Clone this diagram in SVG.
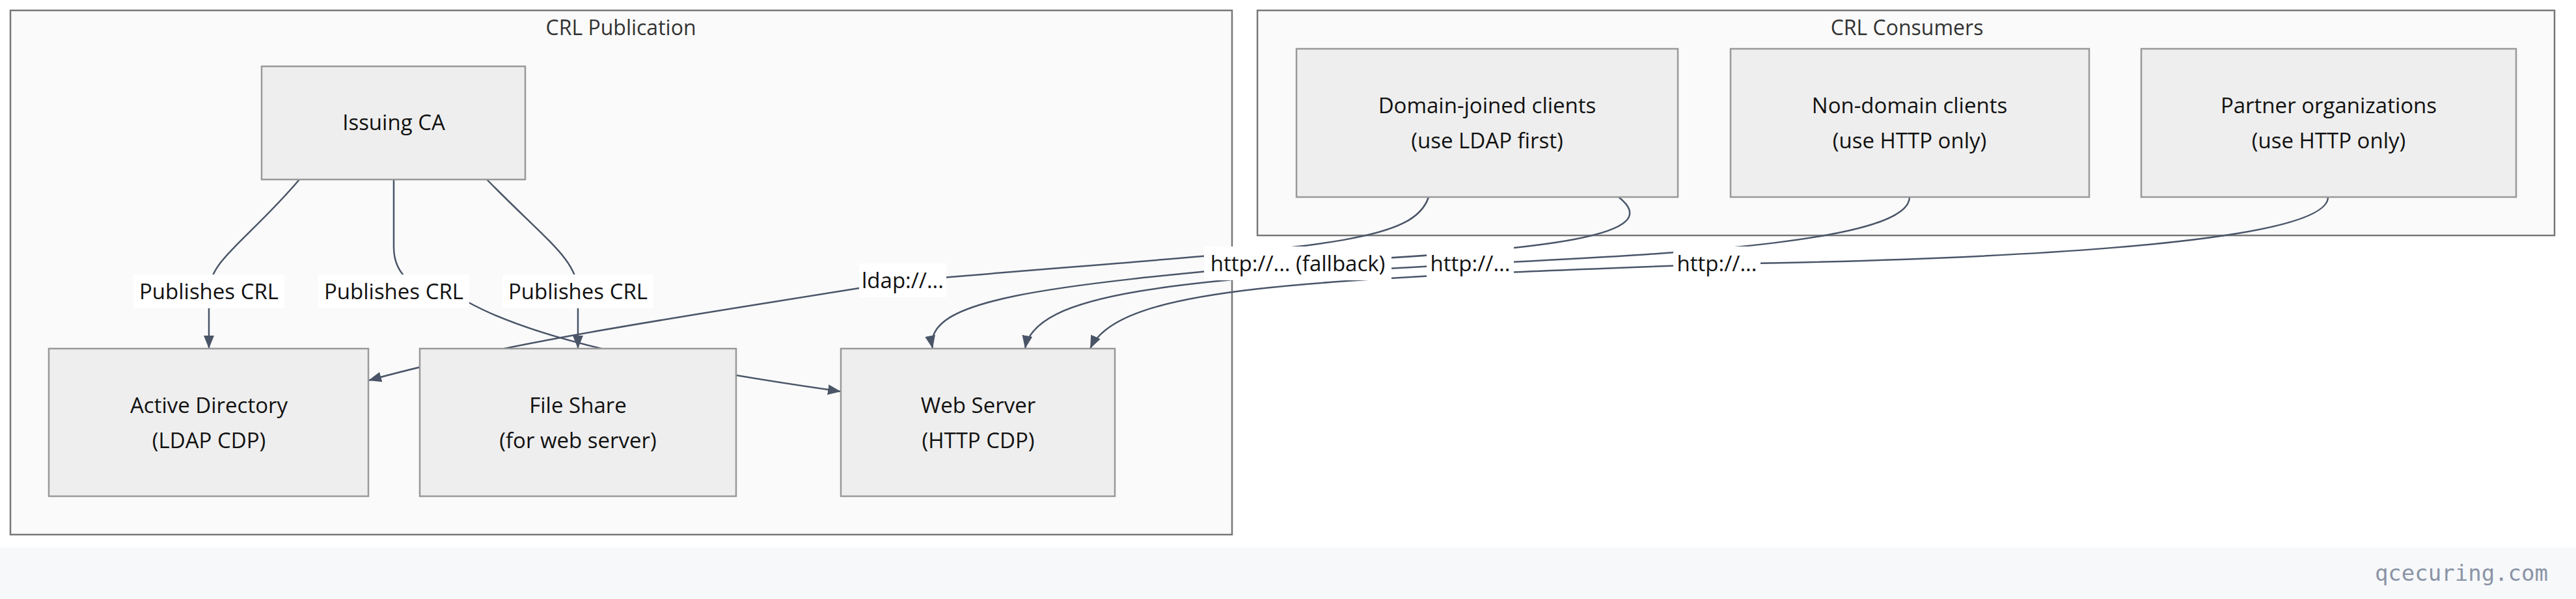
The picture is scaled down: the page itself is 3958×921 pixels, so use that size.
<svg xmlns="http://www.w3.org/2000/svg" width="3958" height="921" viewBox="0 0 3958 921">
<defs>
<style>
.cl{fill:#fafafa;stroke:#777;stroke-width:2.5}
.nd{fill:#eeeeee;stroke:#999;stroke-width:2.5}
.t{font-family:"Open Sans","Liberation Sans",sans-serif;font-size:33px;fill:#111;text-anchor:middle}
.ct{font-family:"Open Sans","Liberation Sans",sans-serif;font-size:32px;fill:#333;text-anchor:middle}
.e{fill:none;stroke:#4a5568;stroke-width:2.5}
.lb{fill:#fff}
</style>
<marker id="ah" viewBox="0 0 10 10" refX="10" refY="5" markerWidth="20" markerHeight="20" orient="auto" markerUnits="userSpaceOnUse"><path d="M0,1L10,5L0,9z" fill="#4a5568"/></marker>
</defs>
<rect width="3958" height="921" fill="#fff"/>
<rect x="0" y="842" width="3958" height="79" fill="#f7f8fa"/>
<text x="3915" y="893" font-family="'DejaVu Sans Mono','Liberation Mono',monospace" font-size="34" fill="#8a94a6" text-anchor="end">qcecuring.com</text>
<g id="cluster-publication"><rect class="cl" x="16" y="16" width="1877" height="806"/><text class="ct" x="954" y="54">CRL Publication</text></g>
<g id="cluster-consumers"><rect class="cl" x="1932" y="16" width="1993" height="346"/><text class="ct" x="2930" y="54">CRL Consumers</text></g>
<g id="connectors">
<path class="e" d="M460,276 C380,370 321,400 321,449 L321,536" marker-end="url(#ah)"/>
<path class="e" d="M748,276 C840,370 888,400 888,449 L888,536" marker-end="url(#ah)"/>
<path class="e" d="M605,276 L605,380 C605,420 630,450 720,465 C820,520 1000,560 1292,602" marker-end="url(#ah)"/>
<path class="e" d="M2195,303 C2170,380 2000,380 1387,432 C1100,480 800,520 566,585" marker-end="url(#ah)"/>
<path class="e" d="M2487,303 C2560,360 2400,385 1994,404 C1600,440 1418,460 1433,536" marker-end="url(#ah)"/>
<path class="e" d="M2934,303 C2934,370 2600,390 2259,406 C1800,430 1590,450 1575,536" marker-end="url(#ah)"/>
<path class="e" d="M3577,303 C3577,380 3000,400 2638,406 C2000,430 1720,440 1675,536" marker-end="url(#ah)"/>
<g>
<rect class="lb" x="205" y="422" width="232" height="52"/><text class="t" x="321" y="460">Publishes CRL</text>
<rect class="lb" x="489" y="422" width="232" height="52"/><text class="t" x="605" y="460">Publishes CRL</text>
<rect class="lb" x="772" y="422" width="232" height="52"/><text class="t" x="888" y="460">Publishes CRL</text>
<rect class="lb" x="1320" y="405" width="134" height="52"/><text class="t" x="1387" y="443">ldap://...</text>
<rect class="lb" x="1850" y="379" width="288" height="52"/><text class="t" x="1994" y="417">http://... (fallback)</text>
<rect class="lb" x="2192" y="379" width="134" height="52"/><text class="t" x="2259" y="417">http://...</text>
<rect class="lb" x="2571" y="379" width="134" height="52"/><text class="t" x="2638" y="417">http://...</text>
</g>
</g>
<g id="issuing-ca"><rect class="nd" x="402" y="102" width="405" height="174"/><text class="t" x="605" y="200">Issuing CA</text></g>
<g id="active-directory"><rect class="nd" x="75" y="536" width="491" height="227"/><text class="t" x="321" y="635">Active Directory</text><text class="t" x="321" y="689">(LDAP CDP)</text></g>
<g id="file-share"><rect class="nd" x="645" y="536" width="486" height="227"/><text class="t" x="888" y="635">File Share</text><text class="t" x="888" y="689">(for web server)</text></g>
<g id="web-server"><rect class="nd" x="1292" y="536" width="421" height="227"/><text class="t" x="1503" y="635">Web Server</text><text class="t" x="1503" y="689">(HTTP CDP)</text></g>
<g id="domain-joined"><rect class="nd" x="1992" y="75" width="586" height="228"/><text class="t" x="2285" y="174">Domain-joined clients</text><text class="t" x="2285" y="228">(use LDAP first)</text></g>
<g id="non-domain"><rect class="nd" x="2659" y="75" width="551" height="228"/><text class="t" x="2934" y="174">Non-domain clients</text><text class="t" x="2934" y="228">(use HTTP only)</text></g>
<g id="partner"><rect class="nd" x="3290" y="75" width="576" height="228"/><text class="t" x="3578" y="174">Partner organizations</text><text class="t" x="3578" y="228">(use HTTP only)</text></g>
</svg>
